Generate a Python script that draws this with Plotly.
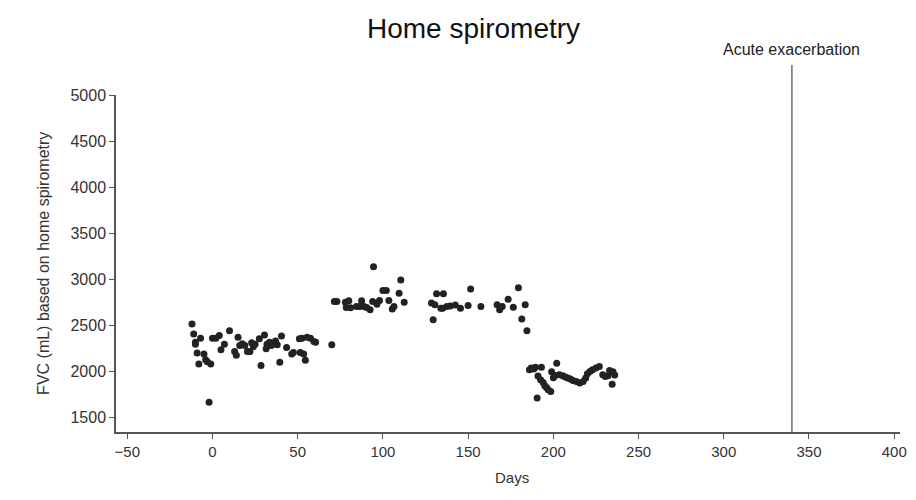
import plotly.graph_objects as go

# FVC readings from home spirometry (day relative to baseline, mL)
days = [
    -12, -11, -10, -10, -9, -8, -7, -5, -4, -3, -2, -1, 0, 2, 4, 5, 7, 10,
    13, 14, 15, 16, 17.5, 19, 20.5, 22, 23, 24, 25, 27.5, 28.5, 30.5, 31.5,
    32, 33.5, 34.5, 35.5, 37, 38, 39.5, 40.5, 43.5, 46.5, 47.5, 51, 51.5,
    52.5, 53.5, 54.5, 55.5, 57.5, 59.5, 60.5, 70,
    71.5, 73, 78, 78.5, 80, 81, 84.5, 86.5, 87.5, 89, 90.5, 92.5, 94, 94.5,
    96.5, 98, 100, 102, 103.5, 105.5, 106.5, 109.5, 110.5, 112.5,
    128.5, 129.5, 130.5, 131.5, 134, 135, 135.5, 137.5, 139.5, 142.5, 145.5,
    150, 151.5, 157.5, 167, 168.5, 170, 173.5, 176.5, 179.5, 181.5, 183.5,
    184.5,
    186, 187, 188.5, 189.5, 190.5, 191, 192.5, 193, 194, 195, 196, 197,
    198.5, 199, 200, 201, 202, 203.5, 205.5, 207, 208.5, 210, 211.5, 213.5,
    215.5, 217.5, 219, 220, 221.5, 223, 225, 227, 229, 230.5, 232, 233,
    234.5, 235, 236,
]
fvc = [
    2515, 2405, 2315, 2295, 2200, 2080, 2360, 2190, 2125, 2105, 1665, 2080,
    2360, 2360, 2390, 2235, 2295, 2440, 2215, 2175, 2370, 2280, 2300, 2280,
    2215, 2215, 2310, 2270, 2295, 2355, 2065, 2395, 2245, 2295, 2315, 2280,
    2295, 2330, 2290, 2100, 2385, 2260, 2190, 2205, 2355, 2205, 2360, 2190,
    2120, 2370, 2360, 2325, 2315, 2290,
    2758, 2758, 2750, 2693, 2768, 2690, 2704, 2704, 2766, 2704, 2693, 2668,
    2758, 3135, 2730, 2770, 2877, 2877, 2769, 2677, 2704, 2848, 2993, 2751,
    2741, 2560, 2722, 2842, 2686, 2686, 2842, 2704, 2710, 2720, 2684, 2715,
    2895, 2704, 2722, 2670, 2704, 2784, 2697, 2908, 2568, 2722, 2442,
    2017, 2036, 2025, 2045, 1710, 1950, 1910, 2045, 1880, 1844, 1825, 1800,
    1782, 1995, 1930, 1955, 2088, 1963, 1952, 1938, 1927, 1916, 1901, 1890,
    1875, 1890, 1927, 1974, 1999, 2017, 2036, 2053, 1963, 1945, 1952, 2010,
    1860, 1995, 1960,
]

exacerbation_day = 340
x_ticks = list(range(-50, 401, 50))
y_ticks = list(range(1500, 5001, 500))

fig = go.Figure()

fig.add_trace(go.Scatter(
    x=days,
    y=fvc,
    mode='markers',
    marker=dict(color='#222222', size=7),
    showlegend=False,
))

# Vertical marker for the acute exacerbation, runs above the plot top
fig.add_shape(
    type='line',
    xref='x', yref='paper',
    x0=exacerbation_day, x1=exacerbation_day,
    y0=0, y1=1.089,
    line=dict(color='#222222', width=1),
)
fig.add_annotation(
    x=exacerbation_day, xref='x',
    y=1.134, yref='paper',
    text='Acute exacerbation',
    showarrow=False,
    yanchor='middle',
    font=dict(size=16, color='#222222'),
)

# Axis titles as annotations so the margins stay fixed
fig.add_annotation(
    x=-0.106, xref='paper', y=0.5, yref='paper',
    text='FVC (mL) based on home spirometry',
    textangle=-90, showarrow=False,
    font=dict(size=16, color='#333333'),
)
fig.add_annotation(
    x=0.505, xref='paper', y=-0.166, yref='paper',
    text='Days', showarrow=False,
    font=dict(size=15, color='#333333'),
)

# page adds an 8px body margin, so the figure is sized to fit without scrolling
fig.update_layout(
    width=908,
    height=484,
    margin=dict(l=108, r=16, t=87, b=60),
    plot_bgcolor='white',
    paper_bgcolor='white',
    font=dict(family='Liberation Sans, Arial, sans-serif', size=14, color='#222222'),
    title=dict(
        text='Home spirometry',
        x=0.456, xref='paper', xanchor='center',
        y=1 - 20 / 484, yref='container', yanchor='middle',
        font=dict(size=28, color='#111111'),
    ),
    xaxis=dict(
        range=[-56.6, 403.4],
        tickvals=x_ticks,
        ticks='outside', ticklen=5, tickcolor='#555555',
        tickfont=dict(size=15, color='#333333'),
        ticklabeloverflow='allow',
        showgrid=False, zeroline=False, automargin=False,
        showline=True, linecolor='#555555', linewidth=1.5,
    ),
    yaxis=dict(
        range=[1342, 5000],
        tickvals=y_ticks,
        ticks='outside', ticklen=5, tickcolor='#555555',
        tickfont=dict(size=16, color='#333333'),
        showgrid=False, zeroline=False, automargin=False,
        showline=True, linecolor='#555555', linewidth=1.5,
    ),
)

fig.write_html("out.html")
